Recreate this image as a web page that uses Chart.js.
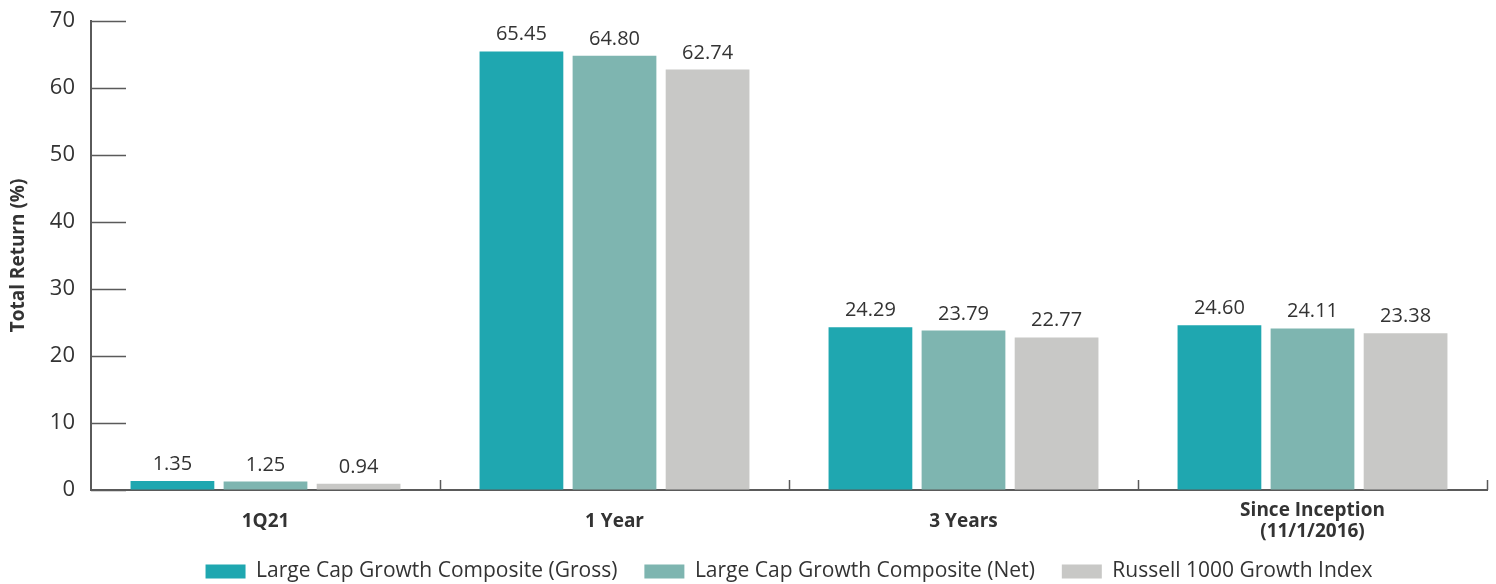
<!DOCTYPE html>
<html>
<head>
<meta charset="utf-8">
<script src="https://cdn.jsdelivr.net/npm/chart.js@4.4.1/dist/chart.umd.min.js"></script>
<style>
html,body{margin:0;padding:0;background:#fff;}
#wrap{width:1496px;height:584px;position:relative;}
</style>
</head>
<body>
<div id="wrap"><canvas id="c" width="1496" height="584"></canvas></div>
<script>
const categories = ["1Q21", "1 Year", "3 Years", ["Since Inception", "(11/1/2016)"]];
const seriesNames = ["Large Cap Growth Composite (Gross)", "Large Cap Growth Composite (Net)", "Russell 1000 Growth Index"];
const grossValues = [1.35, 65.45, 24.29, 24.60];
const netValues = [1.25, 64.80, 23.79, 24.11];
const indexValues = [0.94, 62.74, 22.77, 23.38];
const yTicks = [0, 10, 20, 30, 40, 50, 60, 70];
const colors = ["#1FA7B0", "#7EB5B0", "#C8C8C6"];

const FONT = "'Open Sans', sans-serif";
const TXT = "#333333";

const inwardTicks = {
  id: 'inwardTicks',
  afterDatasetsDraw(chart) {
    const ctx = chart.ctx;
    const x = chart.scales.x, y = chart.scales.y;
    const area = chart.chartArea;
    ctx.save();
    ctx.strokeStyle = "#5a5a5a";
    ctx.lineWidth = 1.5;
    yTicks.forEach(v => {
      const py = Math.round(y.getPixelForValue(v)) + 0.5;
      ctx.beginPath();
      ctx.moveTo(area.left, py);
      ctx.lineTo(area.left + 35, py);
      ctx.stroke();
    });
    const step = x.getPixelForValue(1) - x.getPixelForValue(0);
    for (let i = 0; i < categories.length; i++) {
      const px = Math.round(x.getPixelForValue(i) + step / 2) + 0.5;
      ctx.beginPath();
      ctx.moveTo(px, area.bottom);
      ctx.lineTo(px, area.bottom - 10);
      ctx.stroke();
    }
    ctx.restore();
  }
};

const valueLabels = {
  id: 'valueLabels',
  afterDatasetsDraw(chart) {
    const ctx = chart.ctx;
    ctx.save();
    ctx.fillStyle = TXT;
    ctx.font = "20px " + FONT;
    ctx.textAlign = "center";
    ctx.textBaseline = "alphabetic";
    chart.data.datasets.forEach((ds, di) => {
      chart.getDatasetMeta(di).data.forEach((bar, i) => {
        ctx.fillText(ds.data[i].toFixed(2), bar.x, bar.y - 11);
      });
    });
    ctx.restore();
  }
};

const legendUnderPlot = {
  id: 'legendUnderPlot',
  afterLayout(chart) {
    const lg = chart.legend;
    if (lg) {
      lg.left = chart.chartArea.left;
      lg.right = chart.chartArea.right;
      lg.top -= 10;
      lg.bottom -= 10;
    }
  }
};

new Chart(document.getElementById('c'), {
  type: 'bar',
  data: {
    labels: categories,
    datasets: [
      { label: seriesNames[0], data: grossValues, backgroundColor: colors[0] },
      { label: seriesNames[1], data: netValues, backgroundColor: colors[1] },
      { label: seriesNames[2], data: indexValues, backgroundColor: colors[2] }
    ]
  },
  options: {
    responsive: false,
    animation: false,
    devicePixelRatio: 1,
    layout: { padding: { left: 4, right: 9, top: 0, bottom: -18 } },
    datasets: { bar: { categoryPercentage: 0.8, barPercentage: 0.9 } },
    plugins: {
      legend: {
        position: 'bottom',
        labels: {
          boxWidth: 40, boxHeight: 14, padding: 27,
          color: TXT,
          font: { family: FONT, size: 21 }
        }
      },
      tooltip: { enabled: false }
    },
    scales: {
      x: {
        afterFit(scale) { scale.height = 54; },
        grid: { display: true, drawOnChartArea: false, drawTicks: false, offset: true, color: 'rgba(0,0,0,0)' },
        border: { display: true, color: "#5a5a5a", width: 2 },
        ticks: { color: TXT, font: { family: FONT, size: 19, weight: 'bold', lineHeight: 1.1 }, padding: 21, crossAlign: 'center' }
      },
      y: {
        min: 0, max: 70,
        afterBuildTicks(scale) { scale.ticks = yTicks.map(v => ({ value: v })); },
        afterFit(scale) { scale.width = 87; },
        grid: { display: true, drawOnChartArea: false, drawTicks: false, color: 'rgba(0,0,0,0)' },
        border: { display: true, color: "#5a5a5a", width: 2 },
        ticks: { color: TXT, font: { family: FONT, size: 22, lineHeight: 0.45 }, padding: 16 },
        title: { display: true, text: "Total Return (%)", color: TXT, font: { family: FONT, size: 19, weight: 'bold' }, padding: { top: 3, bottom: 0 } }
      }
    }
  },
  plugins: [inwardTicks, valueLabels, legendUnderPlot]
});
</script>
</body>
</html>
